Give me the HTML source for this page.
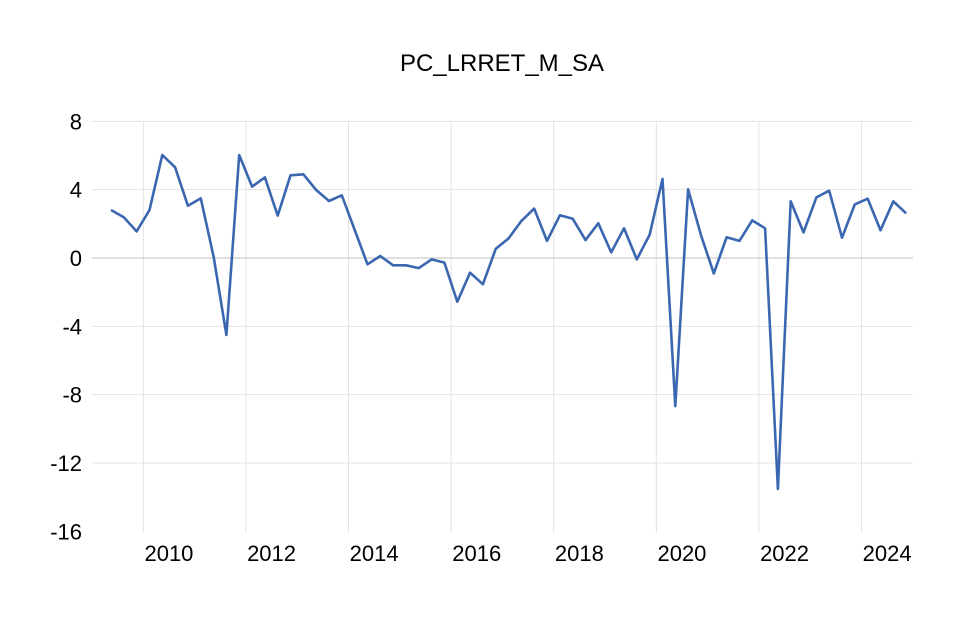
<!DOCTYPE html>
<html><head><meta charset="utf-8"><style>
html,body{margin:0;padding:0;background:#fff}
svg{display:block;font-family:"Liberation Sans",Calibri,sans-serif}
</style></head><body>
<svg id="chart" width="979" height="619" viewBox="0 0 979 619">
<text x="502" y="71" text-anchor="middle" font-size="24" fill="#000">PC_LRRET_M_SA</text>
<g id="grid"></g>
<g id="yaxis"></g>
<g id="xaxis"></g>
<g id="series"></g>
</svg>
<script>
const startYear = 2009.37;
const step = 0.25;
const values = [2.81,2.38,1.56,2.81,6.03,5.31,3.06,3.49,0.08,-4.51,6.03,4.18,4.72,2.48,4.84,4.90,3.98,3.34,3.67,1.64,-0.37,0.12,-0.43,-0.43,-0.59,-0.08,-0.27,-2.56,-0.86,-1.54,0.53,1.15,2.17,2.89,1.00,2.50,2.30,1.05,2.03,0.33,1.74,-0.08,1.35,4.63,-8.67,4.02,1.35,-0.90,1.21,1.00,2.20,1.74,-13.52,3.32,1.50,3.55,3.94,1.19,3.14,3.47,1.62,3.32,2.62];
const yTicks = [8,4,0,-4,-8,-12,-16];
const xTickYears = [2010,2012,2014,2016,2018,2020,2022,2024];
const gridYears = [2010,2012,2014,2016,2018,2020,2022,2024];

const NS="http://www.w3.org/2000/svg";
const X0=92, X1=913;
function xOf(t){return 143.3+(t-2010)*51.3;}
function yOf(v){return 258-v*17.08;}
function mk(tag,attrs,parent){const e=document.createElementNS(NS,tag);for(const k in attrs)e.setAttribute(k,attrs[k]);parent.appendChild(e);return e;}
const grid=document.getElementById('grid'), ya=document.getElementById('yaxis'), xa=document.getElementById('xaxis'), se=document.getElementById('series');
yTicks.forEach(v=>{
  if(v!==0 && v!==-16){
    const l=mk('line',{x1:X0,x2:X1,y1:yOf(v),y2:yOf(v),stroke:'#e3e3e3','stroke-width':1},grid);
    
    
  }
  const t=mk('text',{x:82,y:yOf(v)+8,'text-anchor':'end','font-size':22,fill:'#000'},ya);
  t.textContent=String(v);
  
  
});
gridYears.forEach(yr=>{
  const l=mk('line',{x1:xOf(yr),x2:xOf(yr),y1:yOf(8),y2:533,stroke:'#e3e3e3','stroke-width':1},grid);
  
  
});
xTickYears.forEach(yr=>{
  const t=mk('text',{x:xOf(yr+0.5),y:561,'text-anchor':'middle','font-size':22,fill:'#000'},xa);
  t.textContent=String(yr);
  
  
});
const zl=mk('line',{x1:X0,x2:X1,y1:yOf(0),y2:yOf(0),stroke:'#bfbfbf','stroke-width':1},grid);


const pts=values.map((v,i)=>xOf(startYear+i*step).toFixed(1)+','+yOf(v).toFixed(1)).join(' ');
const pl=mk('polyline',{points:pts,fill:'none',stroke:'#3a67b0','stroke-width':2.6,'stroke-linejoin':'round'},se);


</script>
</body></html>
